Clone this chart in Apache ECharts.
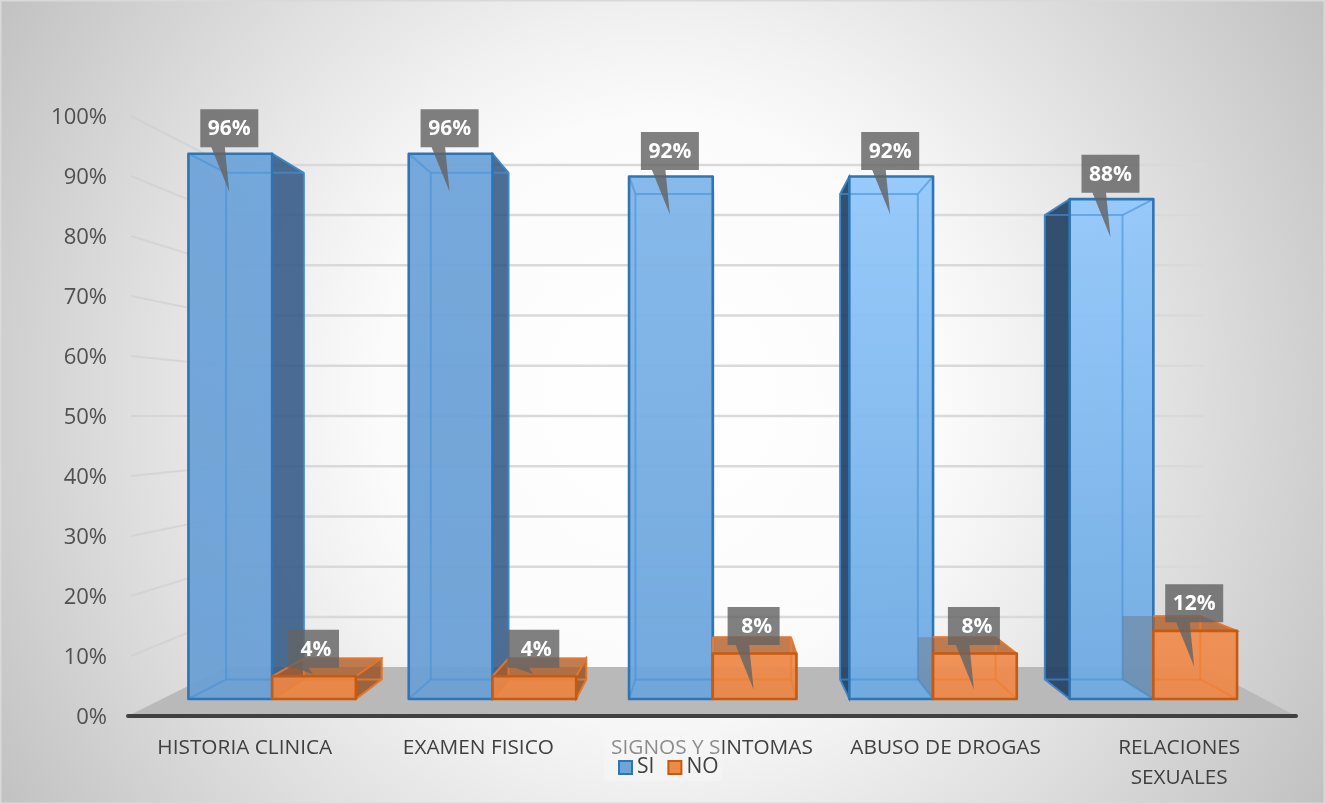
<!DOCTYPE html>
<html>
<head>
<meta charset="utf-8">
<style>html,body{margin:0;padding:0;overflow:hidden}#chart{width:1325px;height:804px}</style>
<script src="https://cdn.jsdelivr.net/npm/echarts@6/dist/echarts.min.js"></script>
</head>
<body>
<div id="chart"></div>
<script>
// Encuesta de historia clinica: porcentaje de SI y NO por apartado
const categories = ['HISTORIA CLINICA', 'EXAMEN FISICO', 'SIGNOS Y SINTOMAS', 'ABUSO DE DROGAS', 'RELACIONES\nSEXUALES'];
const siValues = [96, 96, 92, 92, 88];
const noValues = [4, 4, 8, 8, 12];
const percentTicks = [0, 10, 20, 30, 40, 50, 60, 70, 80, 90, 100];

// Perspective used for the room (wall and floor) and for the depth of the columns
const roomView = { scale: 0.837, cx: 730, cy: 416 };
const barView = { scale: 0.929, cx: 719, cy: 423 };
const project = (p, v) => [v.cx + (p[0] - v.cx) * v.scale, v.cy + (p[1] - v.cy) * v.scale];
const font = '"Open Sans", sans-serif';

function renderRoom(params, api) {
  const tick = api.value(1);
  const cs = params.coordSys;
  const y = api.coord([0, tick])[1];
  const frontLeft = [cs.x, y];
  const frontRight = [cs.x + cs.width, y];
  const backLeft = project(frontLeft, roomView);
  const backRight = project(frontRight, roomView);
  const children = [];
  if (tick === 0) {
    children.push({
      type: 'polygon', z2: 1,
      shape: { points: [frontLeft, frontRight, backRight, backLeft] },
      style: { fill: '#b9b9b9' }
    });
  }
  children.push({
    type: 'line', z2: 2,
    shape: { x1: backLeft[0], y1: backLeft[1], x2: backRight[0], y2: backRight[1] },
    style: { stroke: tick === 0 ? 'rgba(0,0,0,0)' : '#d9d9d9', lineWidth: 2.5 }
  });
  if (tick > 0) {
    children.push({
      type: 'line', z2: 2,
      shape: { x1: frontLeft[0] + 3, y1: frontLeft[1], x2: backLeft[0], y2: backLeft[1] },
      style: { stroke: 'rgba(205,205,205,0.6)', lineWidth: 2 }
    });
  }
  return { type: 'group', children };
}

const paints = {
  SI: {
    stroke: '#2e75b6', inner: 'rgba(70,145,215,0.6)',
    topStart: [111, 164, 217], topEnd: [147, 200, 251],
    bottomStart: [107, 160, 213], bottomEnd: [110, 170, 226],
    rightSide: 'rgba(45,85,130,0.85)', leftSide: 'rgba(35,65,100,0.92)',
    cap: 'rgba(40,75,115,0.8)'
  },
  NO: {
    stroke: '#c55a11', inner: 'rgba(240,125,50,0.75)',
    topStart: [234, 134, 70], topEnd: [240, 142, 80],
    bottomStart: [234, 132, 68], bottomEnd: [236, 136, 74],
    rightSide: 'rgba(150,85,40,0.85)', leftSide: 'rgba(105,105,110,0.38)',
    cap: 'rgba(175,90,35,0.78)'
  }
};

const mix = (a, b, t) => 'rgb(' + a.map((c, i) => Math.round(c + (b[i] - c) * t)).join(',') + ')';

function renderColumn(seriesKey) {
  const paint = paints[seriesKey];
  const isFirst = seriesKey === 'SI';
  return function (params, api) {
    const idx = api.value(0);
    const val = api.value(1);
    const top = api.coord([idx, val]);
    const base = api.coord([idx, 0]);
    const w = api.size([1, 0])[0] * 0.38;
    const x0 = isFirst ? top[0] - w : top[0];
    const x1 = x0 + w;
    const tl = [x0, top[1]], tr = [x1, top[1]], bl = [x0, base[1]], br = [x1, base[1]];
    const tlb = project(tl, barView), trb = project(tr, barView);
    const blb = project(bl, barView), brb = project(br, barView);
    const shade = Math.max(0, Math.min(1, (idx - 1) / 2));
    const showsLeftSide = blb[0] < bl[0] - 1;
    const children = [];
    const z = isFirst ? 10 : 20;

    // Faces seen from outside the column
    if (brb[0] > br[0] + 1) {
      children.push({ type: 'polygon', z2: z, shape: { points: [tr, trb, brb, br] },
        style: { fill: paint.rightSide, stroke: paint.stroke, lineWidth: 1.5 } });
    }
    if (showsLeftSide) {
      const sidePts = isFirst ? [tl, tlb, blb, bl] : [[x0, tlb[1]], tlb, blb, bl];
      children.push({ type: 'polygon', z2: z, shape: { points: sidePts },
        style: { fill: paint.leftSide, stroke: isFirst ? paint.stroke : 'transparent', lineWidth: 1.5 } });
    }
    if (tlb[1] < tl[1]) {
      const capLeft = (!isFirst && showsLeftSide) ? [x0, tlb[1]] : tlb;
      children.push({ type: 'polygon', z2: z, shape: { points: [tl, tr, trb, capLeft] },
        style: { fill: paint.cap, stroke: paint.stroke, lineWidth: 1.2 } });
    }

    // Front face
    children.push({
      type: 'polygon', z2: z + 1,
      shape: { points: [tl, tr, br, bl] },
      style: {
        fill: {
          type: 'linear', x: 0, y: 0, x2: 0, y2: 1,
          colorStops: [
            { offset: 0, color: mix(paint.topStart, paint.topEnd, shade) },
            { offset: 1, color: mix(paint.bottomStart, paint.bottomEnd, shade) }
          ]
        },
        opacity: 0.95
      }
    });

    // Back edges showing through the translucent front
    const innerEdges = [[trb, brb], [tr, trb], [br, brb]];
    if (isFirst || !showsLeftSide) {
      innerEdges.push([blb, tlb], [tl, tlb], [bl, blb], [tlb, trb], [brb, blb]);
    } else {
      innerEdges.push([[x0, tlb[1]], trb], [[x0, blb[1]], brb]);
    }
    innerEdges.forEach((e) => {
      children.push({ type: 'line', z2: z + 2,
        shape: { x1: e[0][0], y1: e[0][1], x2: e[1][0], y2: e[1][1] },
        style: { stroke: paint.inner, lineWidth: 2 } });
    });

    children.push({
      type: 'polygon', z2: z + 3,
      shape: { points: [tl, tr, br, bl] },
      style: { fill: 'transparent', stroke: paint.stroke, lineWidth: 2.6, lineJoin: 'round' }
    });

    // Value callout with a pointer dropping into the column
    const text = val + '%';
    const cx = (x0 + x1) / 2 - 1;
    const boxW = text.length < 3 ? 52 : 58;
    const boxH = 38;
    const boxBottom = top[1] - (isFirst ? 6.5 : 8.5);
    const boxTop = boxBottom - boxH;
    const tipY = val <= 4 ? top[1] - 2 : top[1] + (isFirst ? 38 : 36);
    const calloutFill = 'rgba(100,100,100,0.82)';
    children.push({
      type: 'polygon', z2: 100,
      shape: { points: [
        [cx - boxW / 2, boxTop], [cx + boxW / 2, boxTop], [cx + boxW / 2, boxBottom],
        [cx - 4.5, boxBottom], [cx, tipY], [cx - 18, boxBottom], [cx - boxW / 2, boxBottom]
      ] },
      style: { fill: calloutFill }
    });
    children.push({
      type: 'text', z2: 101,
      style: {
        text, x: cx + (text.length < 3 ? 3 : 0), y: boxTop + boxH / 2 + 1,
        align: 'center', verticalAlign: 'middle',
        fill: '#ffffff', font: 'bold 21px ' + font
      }
    });
    return { type: 'group', children };
  };
}

const chart = echarts.init(document.getElementById('chart'), null, { renderer: 'canvas' });
chart.setOption({
  animation: false,
  backgroundColor: {
    type: 'radial', x: 660, y: 400, r: 800, global: true,
    colorStops: [
      { offset: 0, color: '#ffffff' },
      { offset: 0.35, color: '#fbfbfb' },
      { offset: 0.46, color: '#f2f2f2' },
      { offset: 0.67, color: '#dedede' },
      { offset: 0.96, color: '#c2c2c2' },
      { offset: 1, color: '#bebebe' }
    ]
  },
  graphic: [{
    type: 'rect', z: 0, silent: true,
    shape: { x: 0.5, y: 0.5, width: 1324, height: 803 },
    style: { fill: 'transparent', stroke: '#d9d9d9', lineWidth: 2 }
  }],
  legend: {
    left: 604, top: 737, orient: 'horizontal', z: 6,
    padding: [20, 4, 3, 14],
    backgroundColor: 'rgba(248,248,248,0.42)',
    itemWidth: 13, itemHeight: 13, itemGap: 13,
    textStyle: { color: '#404040', fontFamily: font, fontSize: 21 },
    selectedMode: false,
    data: [
      { name: 'SI', icon: 'rect', itemStyle: { color: '#6fa4d9', borderColor: '#2e75b6', borderWidth: 2 } },
      { name: 'NO', icon: 'rect', itemStyle: { color: '#ed8a4a', borderColor: '#c55a11', borderWidth: 2 } }
    ]
  },
  grid: [
    { left: 128, top: 116, width: 1168, height: 600 },
    { left: 162, top: 131, width: 1101.5, height: 568 }
  ],
  xAxis: [
    {
      gridIndex: 0, type: 'category', data: categories, z: 2,
      axisTick: { show: false },
      axisLine: { lineStyle: { color: '#404040', width: 4, cap: 'round' } },
      axisLabel: { interval: 0, margin: 17, color: '#404040', fontFamily: font, fontSize: 20.8, lineHeight: 30 },
      splitLine: { show: false }
    },
    { gridIndex: 1, type: 'category', data: categories, show: false }
  ],
  yAxis: [
    {
      gridIndex: 0, type: 'value', min: 0, max: 100, interval: 10,
      axisLine: { show: false }, axisTick: { show: false }, splitLine: { show: false },
      axisLabel: {
        formatter: '{t|{value}%}', margin: 21,
        rich: { t: { color: '#505050', fontFamily: font, fontSize: 22, lineHeight: 22, padding: [4, 0, 0, 0] } }
      }
    },
    { gridIndex: 1, type: 'value', min: 0, max: 100, show: false, splitLine: { show: false } }
  ],
  series: [
    {
      name: 'Room', type: 'custom', xAxisIndex: 0, yAxisIndex: 0, z: 1, silent: true,
      clip: false, renderItem: renderRoom,
      data: percentTicks.map((t) => [0, t])
    },
    {
      name: 'SI', type: 'custom', xAxisIndex: 1, yAxisIndex: 1, z: 3, clip: false,
      renderItem: renderColumn('SI'), encode: { x: 0, y: 1 },
      itemStyle: { color: '#6fa4d9' },
      data: siValues.map((v, i) => [i, v])
    },
    {
      name: 'NO', type: 'custom', xAxisIndex: 1, yAxisIndex: 1, z: 3, clip: false,
      renderItem: renderColumn('NO'), encode: { x: 0, y: 1 },
      itemStyle: { color: '#ed8a4a' },
      data: noValues.map((v, i) => [i, v])
    }
  ]
});
</script>
</body>
</html>
